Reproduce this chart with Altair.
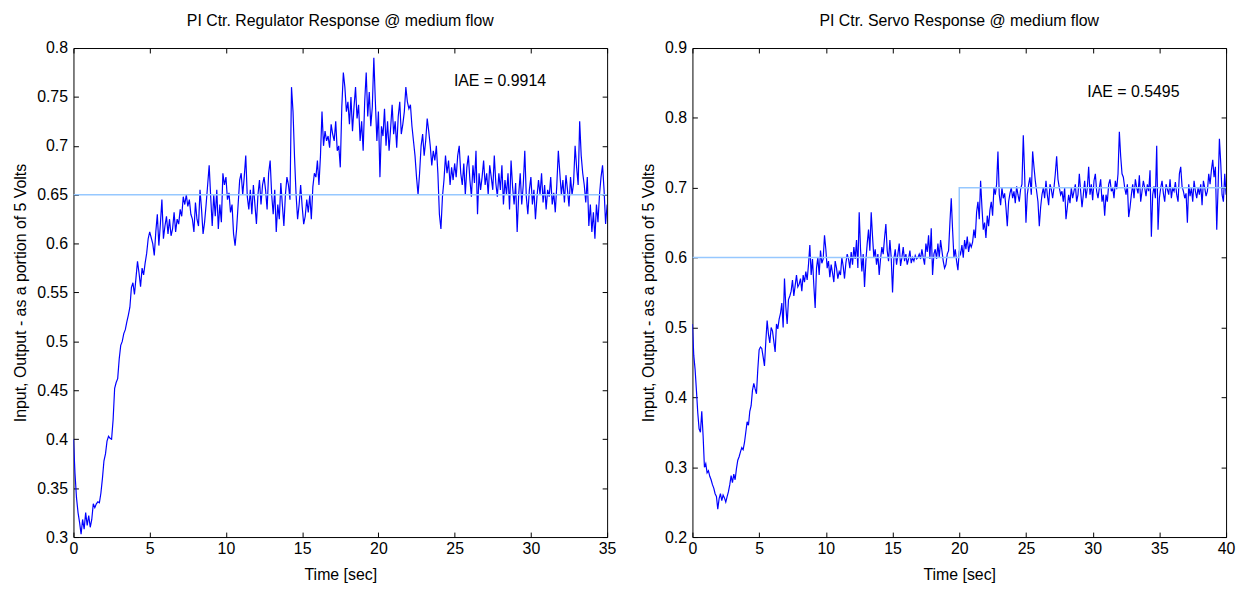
import altair as alt
import pandas as pd

# ---------------- data (values in thousandths, sampled every 0.1 s) ----------------
reg_step = 0.1
reg_output = [
    400, 365, 340, 325, 315, 303, 318, 308, 325, 312,
    322, 310, 318, 334, 330, 334, 336, 335, 345, 360,
    378, 385, 398, 403, 401, 400, 420, 452, 458, 462,
    482, 496, 500, 508, 512, 520, 527, 535, 555, 560,
    548, 565, 582, 570, 556, 575, 568, 580, 590, 605,
    612, 606, 600, 588, 612, 630, 598, 620, 645, 605,
    618, 628, 610, 625, 608, 615, 632, 612, 625, 620,
    635, 628, 648, 640, 650, 638, 645, 630, 625, 612,
    642, 625, 618, 655, 635, 610, 622, 640, 660, 680,
    648, 618, 650, 628, 655, 615, 640, 622, 672, 660,
    668, 645, 652, 632, 640, 610, 598, 615, 640, 665,
    672, 650, 668, 690, 648, 635, 655, 630, 660, 640,
    620, 650, 665, 640, 660, 668, 655, 635, 672, 685,
    650, 630, 655, 612, 640, 625, 662, 640, 618, 650,
    668, 660, 645, 760, 735, 688, 650, 625, 640, 660,
    638, 620, 628, 645, 632, 650, 625, 658, 672, 668,
    685, 660, 690, 735, 700, 715, 705, 710, 698, 722,
    712, 705, 725, 695, 700, 678, 740, 775, 760, 735,
    745, 722, 750, 715, 740, 760, 728, 742, 705, 725,
    695, 745, 775, 730, 755, 720, 740, 790, 745, 705,
    735, 668, 720, 710, 738, 700, 725, 695, 718, 742,
    712, 725, 698, 730, 745, 712, 722, 735, 760, 745,
    738, 742, 720, 705, 690, 668, 650, 672, 700, 712,
    690, 705, 728, 715, 700, 680, 695, 685, 700, 672,
    630, 615, 648, 665, 690, 672, 685, 660, 678, 665,
    682, 668, 690, 700, 672, 660, 682, 650, 678, 690,
    665, 648, 680, 662, 695, 630, 672, 655, 668, 685,
    660, 672, 650, 680, 668, 655, 690, 662, 648, 672,
    655, 680, 640, 665, 650, 672, 635, 685, 658, 640,
    662, 612, 650, 672, 640, 660, 695, 648, 630, 655,
    668, 640, 655, 625, 648, 665, 650, 672, 642, 660,
    635, 655, 648, 668, 640, 652, 632, 660, 695, 672,
    650, 665, 642, 670, 655, 638, 668, 650, 662, 700,
    678, 660, 725, 690, 672, 660, 642, 668, 618, 640,
    612, 632, 605, 640, 622, 650, 668, 680, 655, 620,
    640,
]
reg_sp_t = [0, 35]
reg_sp_v = [0.65, 0.65]

servo_step = 0.1
servo_output = [
    505, 460, 440, 410, 378, 355, 350, 380, 345, 300,
    305, 292, 295, 287, 282, 275, 270, 262, 258, 240,
    255, 262, 252, 260, 256, 250, 258, 265, 275, 288,
    278, 290, 282, 298, 310, 315, 322, 328, 325, 335,
    350, 365, 360, 380, 388, 410, 420, 412, 405, 440,
    468, 472, 470, 458, 445, 480, 510, 490, 478, 500,
    495, 480, 465, 505, 498, 512, 520, 535, 500, 570,
    530, 505, 540, 545, 552, 568, 545, 560, 575, 558,
    562, 570, 552, 575, 565, 580, 568, 590, 618, 575,
    598, 560, 528, 585, 600, 575, 610, 592, 598, 632,
    612, 585, 595, 572, 590, 578, 565, 595, 585, 570,
    580, 575, 600, 588, 570, 592, 605, 598, 585, 608,
    590, 615, 598, 625, 585, 665, 612, 580, 605, 558,
    595, 620, 640, 610, 665, 630, 600, 612, 590, 605,
    575, 598, 615, 605, 628, 648, 610, 595, 625, 600,
    550, 598, 612, 590, 605, 620, 588, 600, 615, 595,
    605, 590, 598, 610, 592, 600, 595, 603, 598, 600,
    605, 598, 612, 600, 590, 620, 608, 632, 598, 642,
    575, 605, 612, 598, 620, 600, 625, 610, 595, 585,
    590, 605, 610, 650, 685, 640, 600, 612, 595, 582,
    610, 605, 618, 600, 625, 612, 630, 608, 620, 615,
    622, 640, 628, 665, 680, 655, 710, 672, 640, 650,
    628, 660, 645, 668, 680, 660, 700, 690, 705, 752,
    690, 675, 700, 685, 692, 672, 645, 680, 692, 700,
    685, 695, 678, 702, 690, 680, 698, 705, 775, 720,
    650, 690, 705, 715, 690, 752, 730, 710, 695, 680,
    645, 672, 690, 700, 685, 710, 690, 675, 705, 698,
    685, 700, 720, 745, 712, 700, 690, 695, 680, 700,
    655, 672, 690, 678, 700, 685, 695, 705, 680, 690,
    720, 695, 672, 690, 710, 685, 700, 730, 690, 705,
    682, 710, 720, 695, 685, 700, 712, 680, 690, 660,
    690, 680, 705, 712, 695, 700, 685, 710, 698, 720,
    780, 745, 720, 715, 700, 690, 705, 658, 672, 690,
    705, 685, 712, 700, 692, 718, 680, 695, 710, 700,
    688, 705, 695, 725, 630, 690, 702, 685, 760, 640,
    685, 700, 710, 692, 680, 705, 698, 690, 712, 685,
    700, 695, 708, 690, 680, 720, 730, 702, 695, 685,
    692, 650, 705, 688, 700, 680, 710, 695, 685, 700,
    690, 705, 675, 710, 700, 688, 695, 720, 705, 725,
    740, 715, 730, 640, 700, 770, 735, 690, 680, 720,
    690,
]
servo_sp_t = [0, 20, 20, 40]
servo_sp_v = [0.6, 0.6, 0.7, 0.7]

reg_title = "PI Ctr. Regulator Response @ medium flow"
servo_title = "PI Ctr. Servo Response @ medium flow"
reg_iae = "IAE = 0.9914"
servo_iae = "IAE = 0.5495"
reg_iae_pos = (24.95, 0.766)
servo_iae_pos = (29.6, 0.837)

reg_xticks = [0, 5, 10, 15, 20, 25, 30, 35]
reg_yticks = [0.3, 0.35, 0.4, 0.45, 0.5, 0.55, 0.6, 0.65, 0.7, 0.75, 0.8]
servo_xticks = [0, 5, 10, 15, 20, 25, 30, 35, 40]
servo_yticks = [0.2, 0.3, 0.4, 0.5, 0.6, 0.7, 0.8, 0.9]

x_title = "Time [sec]"
y_title = "Input, Output - as a portion of 5 Volts"

FONT = "Liberation Sans"
TRACE = "#0000FF"
SETPT = "#96C8FF"
W, H = 538, 493


def panel(values, step, sp_t, sp_v, xdom, ydom, xticks, yticks, title, iae, iae_pos):
    df = pd.DataFrame({"t": [round(i * step, 3) for i in range(len(values))],
                       "v": [v / 1000 for v in values]})
    sp = pd.DataFrame({"t": sp_t, "v": sp_v, "i": list(range(len(sp_t)))})
    lab = pd.DataFrame({"t": [iae_pos[0]], "v": [iae_pos[1]], "s": [iae]})

    xs = alt.Scale(domain=xdom, nice=False, zero=False)
    ys = alt.Scale(domain=ydom, nice=False, zero=False)

    common = dict(labelFont=FONT, labelFontSize=16, labelColor="black",
                  titleFont=FONT, titleFontSize=16, titleFontWeight="normal",
                  titleColor="black", tickColor="black", tickWidth=1,
                  domain=False, grid=False, offset=-5, tickSize=5)

    bottom = alt.Axis(orient="bottom", values=xticks, format="~g",
                      labelPadding=4, title=x_title, titlePadding=10,
                      labelFlush=False, labelOverlap=False, **common)
    left = alt.Axis(orient="left", values=yticks, format="~g",
                    labelPadding=6, title=y_title, titlePadding=8,
                    labelOverlap=False, **common)
    top = alt.Axis(orient="top", values=xticks, labels=False, title=None, **common)
    right = alt.Axis(orient="right", values=yticks, labels=False, title=None, **common)

    trace = alt.Chart(df).mark_line(color=TRACE, strokeWidth=1.2, clip=True).encode(
        x=alt.X("t:Q", scale=xs, axis=bottom),
        y=alt.Y("v:Q", scale=ys, axis=left),
    )
    setpt = alt.Chart(sp).mark_line(color=SETPT, strokeWidth=1.5, clip=True).encode(
        x=alt.X("t:Q", scale=xs, axis=top),
        y=alt.Y("v:Q", scale=ys, axis=right),
        order="i:Q",
    )
    text = alt.Chart(lab).mark_text(align="left", baseline="middle", font=FONT,
                                    fontSize=16, color="black").encode(
        x=alt.X("t:Q", scale=xs, axis=None),
        y=alt.Y("v:Q", scale=ys, axis=None),
        text="s:N",
    )
    return alt.layer(trace, setpt, text).resolve_axis(x="independent", y="independent").properties(
        width=W, height=H,
        title=alt.TitleParams(title, font=FONT, fontSize=16, fontWeight="normal",
                              color="black", offset=11),
    )


left_panel = panel(reg_output, reg_step, reg_sp_t, reg_sp_v, [0, 35], [0.3, 0.8],
                   reg_xticks, reg_yticks, reg_title, reg_iae, reg_iae_pos)
right_panel = panel(servo_output, servo_step, servo_sp_t, servo_sp_v, [0, 40], [0.2, 0.9],
                    servo_xticks, servo_yticks, servo_title, servo_iae, servo_iae_pos)

chart = alt.hconcat(left_panel, right_panel, spacing=23).properties(
    background="white",
    padding={"left": 4, "top": 2, "right": 0, "bottom": 0},
).configure_view(stroke="black", strokeWidth=1)

chart.save("out.html", embed_options={"renderer": "svg", "actions": False})
